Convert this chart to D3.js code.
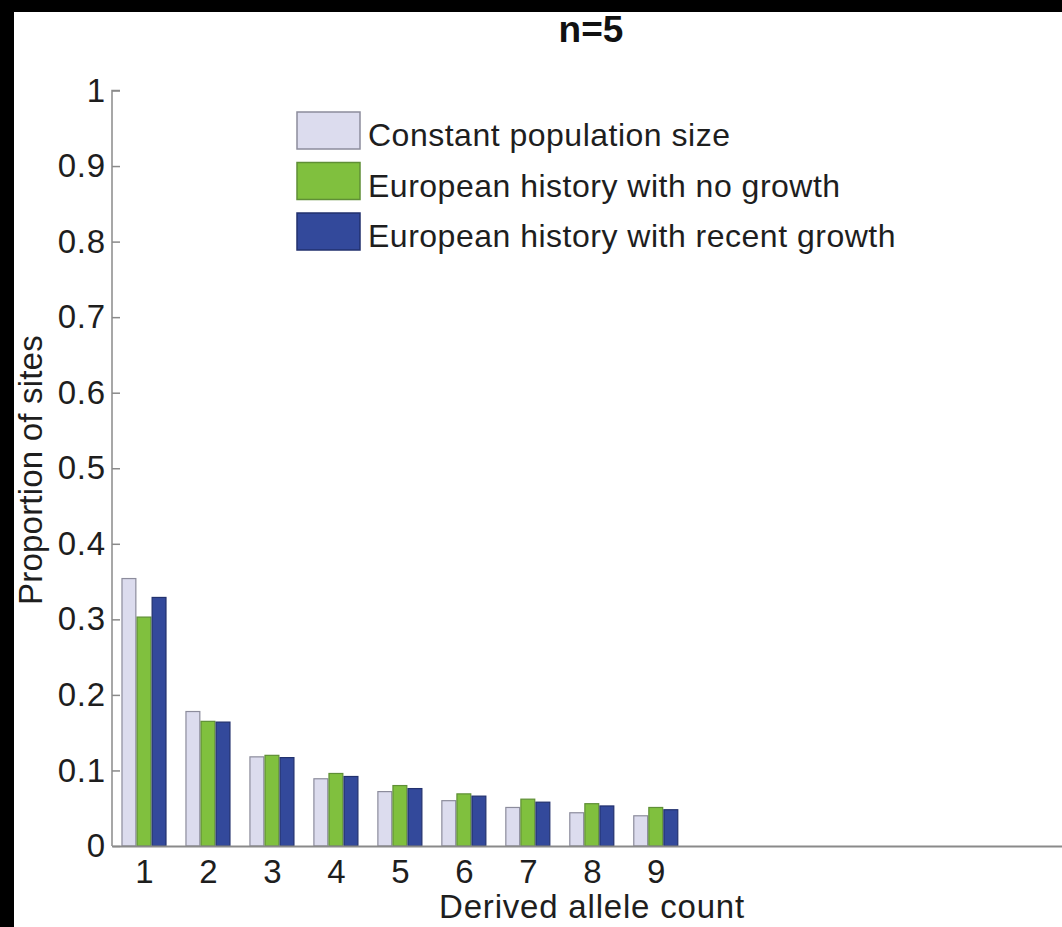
<!DOCTYPE html>
<html>
<head>
<meta charset="utf-8">
<script src="https://cdn.jsdelivr.net/npm/d3@7"></script>
<style>
  html, body { margin: 0; padding: 0; background: #000; }
  svg { display: block; }
  text { font-family: "Liberation Sans", Arial, Helvetica, sans-serif; fill: #1e1e1e; }
</style>
</head>
<body>
<script>
// Derived allele counts shown on the x axis
const categories = [1, 2, 3, 4, 5, 6, 7, 8, 9];

// Proportion of sites per demographic model
const constantSize   = [0.354, 0.178, 0.118, 0.089, 0.072, 0.060, 0.051, 0.044, 0.040];
const europeNoGrowth = [0.303, 0.165, 0.120, 0.096, 0.080, 0.069, 0.062, 0.056, 0.051];
const europeGrowth   = [0.329, 0.164, 0.117, 0.092, 0.076, 0.066, 0.058, 0.053, 0.048];

const seriesNames = [
  "Constant population size",
  "European history with no growth",
  "European history with recent growth"
];

const yTickValues = [0, 0.1, 0.2, 0.3, 0.4, 0.5, 0.6, 0.7, 0.8, 0.9, 1];
const yTickLabels = ["0", "0.1", "0.2", "0.3", "0.4", "0.5", "0.6", "0.7", "0.8", "0.9", "1"];

const title = "n=5";
const xTitle = "Derived allele count";
const yTitle = "Proportion of sites";

const seriesValues = [constantSize, europeNoGrowth, europeGrowth];
const fills   = ["#dcdcee", "#80c03e", "#33499b"];
const strokes = ["#8c8c9c", "#5f8f36", "#22316e"];

const W = 1062, H = 927;
const svg = d3.select("body").append("svg").attr("width", W).attr("height", H);

// white page inside the dark frame
svg.append("rect").attr("x", 0).attr("y", 0).attr("width", W).attr("height", H).attr("fill", "#000");
svg.append("rect").attr("x", 14).attr("y", 12).attr("width", W - 14).attr("height", H - 12).attr("fill", "#fff");

const x0 = 112, y0 = 846, yTop = 90.5;
const x = d3.scaleLinear().domain([0.5, 15.35]).range([x0, W]);
const y = d3.scaleLinear().domain([0, 1]).range([y0, yTop]);
const sub = d3.scaleBand().domain(d3.range(seriesNames.length)).range([-22, 22]).paddingInner(0.08);

// bars
const rows = categories.map((c, i) => ({ c, vals: seriesValues.map(s => s[i]) }));
const groups = svg.append("g").selectAll("g").data(rows).join("g")
  .attr("transform", d => `translate(${x(d.c)},0)`);
groups.selectAll("rect").data(d => d.vals.map((v, k) => ({ v, k }))).join("rect")
  .attr("x", d => sub(d.k))
  .attr("width", sub.bandwidth())
  .attr("y", d => y(d.v))
  .attr("height", d => y0 - y(d.v))
  .attr("fill", d => fills[d.k])
  .attr("stroke", d => strokes[d.k])
  .attr("stroke-width", 1.2);

// y axis with inward ticks
const yAxis = d3.axisLeft(y).tickValues(yTickValues)
  .tickFormat((d, i) => yTickLabels[i]).tickSizeInner(-8).tickSizeOuter(-8).tickPadding(6);
const gy = svg.append("g").attr("transform", `translate(${x0},0)`).call(yAxis);
gy.selectAll("path, line").attr("stroke", "#8a8a8a").attr("stroke-width", 1.5);
gy.selectAll("text").attr("font-size", 33).attr("letter-spacing", 0.8).style("fill", "#1e1e1e");
gy.select(".domain").attr("d", `M8,${yTop}H0V${y0}`);

// x axis running to the right edge
const xAxis = d3.axisBottom(x).tickValues(categories).tickSize(0).tickPadding(14);
const gx = svg.append("g").attr("transform", `translate(0,${y0})`).call(xAxis);
gx.select(".domain").attr("stroke", "#8a8a8a").attr("stroke-width", 2);
gx.selectAll("text").attr("font-size", 33).style("fill", "#1e1e1e");

// titles
svg.append("text").attr("x", 591).attr("y", 42).attr("text-anchor", "middle")
  .attr("font-size", 37).attr("font-weight", "bold").style("fill", "#111").text(title);
svg.append("text").attr("x", 592).attr("y", 918).attr("text-anchor", "middle")
  .attr("font-size", 33).attr("letter-spacing", 0.8).style("fill", "#1e1e1e").text(xTitle);
svg.append("text").attr("transform", "translate(42,470) rotate(-90)").attr("text-anchor", "middle")
  .attr("font-size", 33).attr("letter-spacing", 0.2).style("fill", "#1e1e1e").text(yTitle);

// legend
const legend = svg.append("g").attr("transform", "translate(297,112)");
const items = legend.selectAll("g").data(seriesNames).join("g")
  .attr("transform", (d, i) => `translate(0,${i * 50.5})`);
items.append("rect").attr("width", 63).attr("height", 37)
  .attr("fill", (d, i) => fills[i]).attr("stroke", (d, i) => strokes[i]).attr("stroke-width", 1.5);
items.append("text").attr("x", 71).attr("y", 34).attr("font-size", 32)
  .attr("letter-spacing", 0.5).style("fill", "#1e1e1e").text(d => d);
</script>
</body>
</html>
